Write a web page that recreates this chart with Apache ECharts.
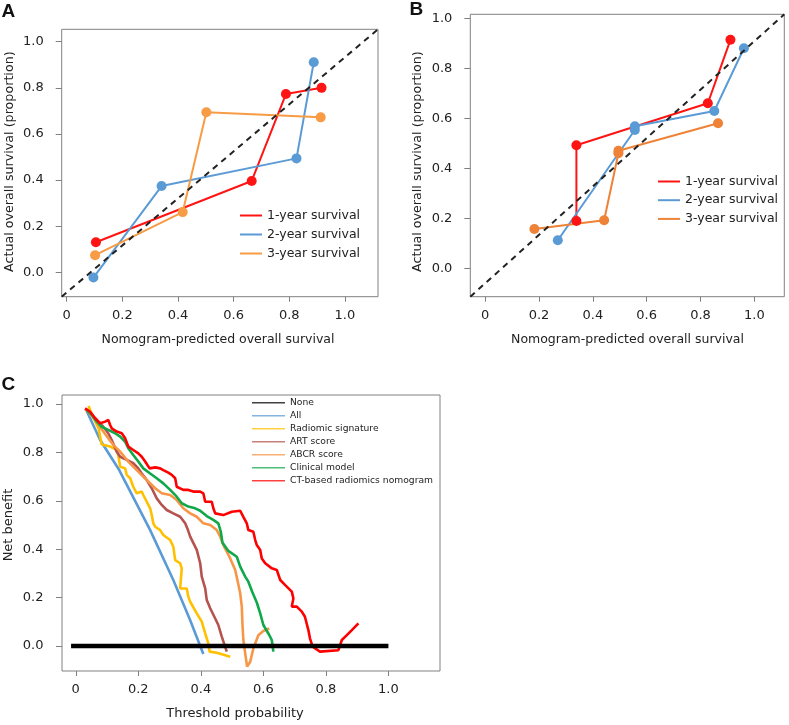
<!DOCTYPE html>
<html>
<head>
<meta charset="utf-8">
<script src="https://cdn.jsdelivr.net/npm/echarts@6/dist/echarts.min.js"></script>
<style>
html,body{margin:0;padding:0;background:#fff;}
#chart{width:789px;height:725px;}
</style>
</head>
<body>
<div id="chart"></div>
<script>
// ---------- tick labels ----------
const xTickVals = [0, 0.2, 0.4, 0.6, 0.8, 1.0];
const xTickLabels = ['0', '0.2', '0.4', '0.6', '0.8', '1.0'];
const yTickVals = [0, 0.2, 0.4, 0.6, 0.8, 1.0];
const yTickLabels = ['0.0', '0.2', '0.4', '0.6', '0.8', '1.0'];

// ---------- Panel A (calibration) ----------
const calNames = ['1-year survival', '2-year survival', '3-year survival'];
const aRed = [[0.105, 0.130], [0.665, 0.396], [0.788, 0.773], [0.916, 0.800]];
const aBlue = [[0.096, -0.023], [0.341, 0.374], [0.826, 0.494], [0.888, 0.911]];
const aOrange = [[0.102, 0.074], [0.417, 0.261], [0.502, 0.694], [0.913, 0.672]];
const aDiagonal = [[-0.018, -0.106], [1.119, 1.054]];

// ---------- Panel B (calibration) ----------
const bRed = [[0.339, 0.189], [0.339, 0.492], [0.827, 0.660], [0.911, 0.914]];
const bBlue = [[0.270, 0.112], [0.556, 0.553], [0.556, 0.568], [0.851, 0.629], [0.961, 0.880]];
const bOrange = [[0.183, 0.157], [0.442, 0.192], [0.495, 0.460], [0.495, 0.470], [0.865, 0.580]];
const bDiagonal = [[-0.055, -0.114], [1.111, 1.016]];

// ---------- Panel C (decision curves) ----------
const dcaNames = ['None', 'All', 'Radiomic signature', 'ART score', 'ABCR score', 'Clinical model', 'CT-based radiomics nomogram'];
const cNone = [[-0.015, 0], [1.0, 0]];
const cAll = [[0.035, 0.971], [0.078, 0.851], [0.139, 0.727], [0.238, 0.479], [0.312, 0.273], [0.366, 0.107], [0.408, -0.033]];
const cRadiomic = [[0.041, 0.992], [0.046, 0.975], [0.057, 0.941], [0.073, 0.899], [0.083, 0.833], [0.110, 0.824], [0.131, 0.810], [0.136, 0.789], [0.142, 0.741], [0.158, 0.734], [0.163, 0.707], [0.174, 0.693], [0.184, 0.658], [0.195, 0.631], [0.211, 0.638], [0.216, 0.624], [0.238, 0.569], [0.243, 0.541], [0.248, 0.507], [0.254, 0.493], [0.270, 0.479], [0.280, 0.459], [0.302, 0.438], [0.312, 0.410], [0.318, 0.355], [0.334, 0.342], [0.339, 0.321], [0.334, 0.238], [0.355, 0.238], [0.360, 0.204], [0.366, 0.183], [0.387, 0.135], [0.403, 0.101], [0.414, 0.052], [0.424, 0.011], [0.428, -0.023], [0.451, -0.028], [0.494, -0.044]];
const cART = [[0.030, 0.979], [0.046, 0.961], [0.067, 0.934], [0.088, 0.906], [0.104, 0.879], [0.115, 0.851], [0.131, 0.803], [0.142, 0.782], [0.163, 0.769], [0.184, 0.755], [0.200, 0.734], [0.211, 0.713], [0.227, 0.686], [0.243, 0.652], [0.259, 0.610], [0.275, 0.583], [0.291, 0.562], [0.312, 0.548], [0.334, 0.534], [0.350, 0.507], [0.357, 0.486], [0.366, 0.452], [0.387, 0.397], [0.398, 0.342], [0.403, 0.287], [0.414, 0.238], [0.419, 0.190], [0.430, 0.156], [0.446, 0.114], [0.456, 0.087], [0.467, 0.039], [0.483, -0.023]];
const cABCR = [[0.033, 0.978], [0.062, 0.934], [0.088, 0.886], [0.120, 0.831], [0.142, 0.803], [0.168, 0.762], [0.195, 0.727], [0.227, 0.686], [0.254, 0.652], [0.275, 0.631], [0.302, 0.624], [0.323, 0.603], [0.344, 0.569], [0.366, 0.548], [0.387, 0.534], [0.408, 0.507], [0.430, 0.500], [0.451, 0.479], [0.462, 0.452], [0.472, 0.417], [0.483, 0.390], [0.494, 0.362], [0.510, 0.314], [0.517, 0.273], [0.526, 0.218], [0.531, 0.163], [0.533, 0.094], [0.536, 0.025], [0.542, -0.030], [0.548, -0.085], [0.558, -0.065], [0.568, -0.010], [0.584, 0.045], [0.600, 0.062], [0.619, 0.073]];
const cClinical = [[0.035, 0.975], [0.051, 0.955], [0.067, 0.927], [0.083, 0.906], [0.104, 0.893], [0.126, 0.879], [0.142, 0.865], [0.158, 0.844], [0.168, 0.817], [0.184, 0.789], [0.200, 0.762], [0.216, 0.734], [0.238, 0.713], [0.259, 0.693], [0.280, 0.672], [0.302, 0.645], [0.323, 0.617], [0.339, 0.590], [0.360, 0.576], [0.382, 0.569], [0.398, 0.559], [0.419, 0.537], [0.440, 0.521], [0.456, 0.507], [0.464, 0.472], [0.469, 0.428], [0.488, 0.393], [0.515, 0.369], [0.526, 0.328], [0.542, 0.287], [0.552, 0.266], [0.565, 0.222], [0.579, 0.180], [0.590, 0.135], [0.600, 0.087], [0.616, 0.052], [0.627, 0.025], [0.632, -0.023]];
const cCT = [[0.030, 0.982], [0.046, 0.968], [0.062, 0.941], [0.078, 0.920], [0.094, 0.927], [0.104, 0.934], [0.110, 0.913], [0.115, 0.899], [0.131, 0.886], [0.147, 0.879], [0.158, 0.858], [0.168, 0.824], [0.184, 0.810], [0.200, 0.796], [0.211, 0.782], [0.222, 0.762], [0.236, 0.734], [0.254, 0.738], [0.270, 0.734], [0.280, 0.727], [0.296, 0.716], [0.307, 0.707], [0.318, 0.693], [0.323, 0.658], [0.344, 0.645], [0.360, 0.645], [0.376, 0.638], [0.398, 0.638], [0.408, 0.631], [0.414, 0.596], [0.435, 0.596], [0.440, 0.569], [0.446, 0.548], [0.472, 0.541], [0.499, 0.555], [0.526, 0.559], [0.536, 0.534], [0.547, 0.507], [0.552, 0.479], [0.568, 0.472], [0.574, 0.438], [0.579, 0.417], [0.590, 0.397], [0.595, 0.362], [0.606, 0.342], [0.627, 0.321], [0.643, 0.314], [0.654, 0.273], [0.670, 0.252], [0.691, 0.225], [0.696, 0.197], [0.691, 0.163], [0.707, 0.163], [0.723, 0.142], [0.733, 0.121], [0.744, 0.066], [0.749, 0.032], [0.758, -0.003], [0.781, -0.023], [0.840, -0.017], [0.851, 0.025], [0.867, 0.045], [0.883, 0.066], [0.904, 0.094]];

// ---------- styling ----------
const FONT = 'DejaVu Sans';
const RED = '#ff1414', BLUE = '#5b9bd5', ORANGE_A = '#f89b45', ORANGE_B = '#ee8236';
const dcaColors = ['#000000', '#5b9bd5', '#ffc000', '#b5534f', '#f79646', '#11a84a', '#ff0000'];

function xAxisCfg(gi, min, max, margin) {
  return {
    gridIndex: gi, type: 'value', min: min, max: max,
    axisLine: { show: false, onZero: false },
    splitLine: { show: false },
    axisTick: { show: true, length: 5, customValues: xTickVals, lineStyle: { color: '#808080' } },
    axisLabel: {
      customValues: xTickVals, margin: margin, fontSize: 13, fontFamily: FONT, color: '#222',
      formatter: function (v) { return xTickLabels[xTickVals.indexOf(Math.round(v * 10) / 10)]; }
    }
  };
}
function yAxisCfg(gi, min, max, margin) {
  return {
    gridIndex: gi, type: 'value', min: min, max: max,
    axisLine: { show: false, onZero: false },
    splitLine: { show: false },
    axisTick: { show: true, length: 6, customValues: yTickVals, lineStyle: { color: '#808080' } },
    axisLabel: {
      customValues: yTickVals, margin: margin, fontSize: 13, fontFamily: FONT, color: '#222',
      formatter: function (v) { return yTickLabels[yTickVals.indexOf(Math.round(v * 10) / 10)]; }
    }
  };
}
function calSeries(name, data, color, gi) {
  return {
    type: 'line', name: name, data: data, xAxisIndex: gi, yAxisIndex: gi,
    symbol: 'circle', symbolSize: 10, showSymbol: true,
    lineStyle: { width: 2, color: color }, itemStyle: { color: color },
    animation: false, z: 2
  };
}
function diagSeries(data, gi) {
  return {
    type: 'line', name: 'diag' + gi, data: data, xAxisIndex: gi, yAxisIndex: gi,
    symbol: 'none', lineStyle: { width: 2, color: '#222', type: [6, 5] },
    animation: false, z: 3, silent: true
  };
}
function dcaSeries(i, data) {
  return {
    type: 'line', name: dcaNames[i], data: data, xAxisIndex: 2, yAxisIndex: 2,
    symbol: 'none', lineStyle: { width: i === 0 ? 4.5 : 2.6, color: dcaColors[i] },
    itemStyle: { color: dcaColors[i] }, animation: false, z: i === 0 ? 4 : 2
  };
}
function text(t, x, y, size, opts) {
  return Object.assign({
    type: 'text', x: x, y: y,
    style: { text: t, font: size + 'px "DejaVu Sans"', fill: '#222', align: 'center', verticalAlign: 'middle' }
  }, opts || {});
}
function panelLabel(t, x, y) {
  return {
    type: 'text', x: x, y: y,
    style: { text: t, font: 'bold 19px "Liberation Sans"', fill: '#111', align: 'left', verticalAlign: 'middle' }
  };
}

const chart = echarts.init(document.getElementById('chart'), null, { renderer: 'canvas' });
chart.setOption({
  backgroundColor: '#fff',
  animation: false,
  grid: [
    { left: 61.7, top: 29.3, width: 316.3, height: 267.4, show: true, borderColor: '#808080', borderWidth: 1 },
    { left: 470.3, top: 14.3, width: 314, height: 282.4, show: true, borderColor: '#808080', borderWidth: 1 },
    { left: 62, top: 395, width: 378, height: 276, show: true, borderColor: '#808080', borderWidth: 1 }
  ],
  xAxis: [
    xAxisCfg(0, -0.018, 1.119, 12),
    xAxisCfg(1, -0.055, 1.111, 12),
    xAxisCfg(2, -0.044, 1.165, 12)
  ],
  yAxis: [
    yAxisCfg(0, -0.106, 1.054, 18),
    yAxisCfg(1, -0.114, 1.016, 18),
    yAxisCfg(2, -0.103, 1.037, 18.5)
  ],
  legend: [
    {
      data: [{ name: calNames[0], itemStyle: { color: RED } }, { name: calNames[1], itemStyle: { color: BLUE } }, { name: calNames[2], itemStyle: { color: ORANGE_A } }],
      orient: 'vertical', left: 240, top: 209, padding: 0, itemWidth: 22, itemHeight: 2, itemGap: 6, icon: 'rect',
      selectedMode: false,
      textStyle: { fontSize: 12.5, lineHeight: 13, fontFamily: FONT, color: '#222' }
    },
    {
      data: [{ name: calNames[0], itemStyle: { color: RED } }, { name: calNames[1], itemStyle: { color: BLUE } }, { name: calNames[2], itemStyle: { color: ORANGE_B } }],
      orient: 'vertical', left: 658, top: 175, padding: 0, itemWidth: 22, itemHeight: 2, itemGap: 5.7, icon: 'rect',
      selectedMode: false,
      textStyle: { fontSize: 12.5, lineHeight: 13, fontFamily: FONT, color: '#222' }
    },
    {
      data: dcaNames.map(function (n, i) { return { name: n, itemStyle: { color: dcaColors[i], opacity: 0.75 } }; }),
      orient: 'vertical', left: 252, top: 397.7, padding: 0, itemWidth: 33, itemHeight: 1.5, itemGap: 3, icon: 'rect',
      selectedMode: false,
      textStyle: { fontSize: 9.2, lineHeight: 10, fontFamily: FONT, color: '#222' }
    }
  ],
  series: [
    calSeries(calNames[0], aRed, RED, 0),
    calSeries(calNames[1], aBlue, BLUE, 0),
    calSeries(calNames[2], aOrange, ORANGE_A, 0),
    diagSeries(aDiagonal, 0),
    calSeries(calNames[0], bRed, RED, 1),
    calSeries(calNames[1], bBlue, BLUE, 1),
    calSeries(calNames[2], bOrange, ORANGE_B, 1),
    diagSeries(bDiagonal, 1),
    dcaSeries(1, cAll),
    dcaSeries(2, cRadiomic),
    dcaSeries(3, cART),
    dcaSeries(4, cABCR),
    dcaSeries(5, cClinical),
    dcaSeries(6, cCT),
    dcaSeries(0, cNone)
  ],
  graphic: [
    panelLabel('A', 1.5, 11.5),
    panelLabel('B', 409.5, 10),
    panelLabel('C', 1.5, 385),
    text('Nomogram-predicted overall survival', 218, 340, 12.5),
    text('Nomogram-predicted overall survival', 627.5, 340, 12.5),
    text('Threshold probability', 235, 714, 13),
    text('Actual overall survival (proportion)', 9.5, 161.7, 12.7, { rotation: Math.PI / 2 }),
    text('Actual overall survival (proportion)', 418, 161.7, 12.7, { rotation: Math.PI / 2 }),
    text('Net benefit', 8.5, 525, 13, { rotation: Math.PI / 2 })
  ]
});
</script>
</body>
</html>
